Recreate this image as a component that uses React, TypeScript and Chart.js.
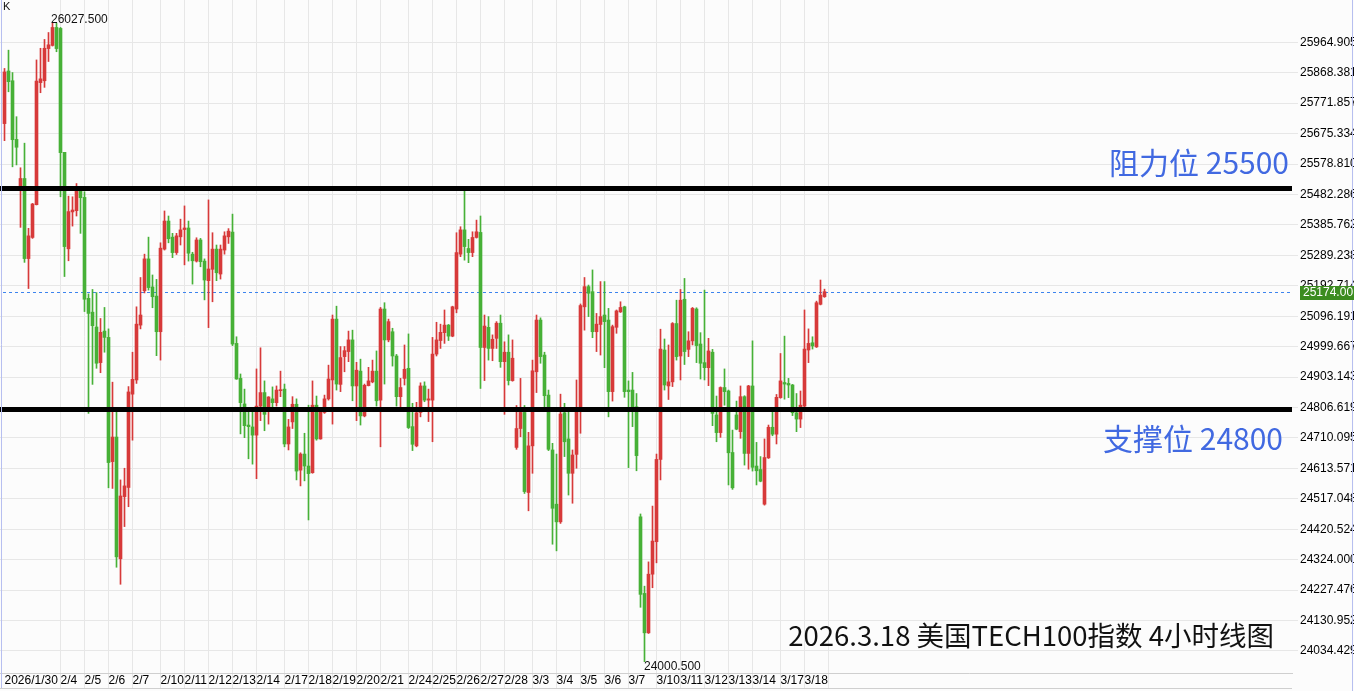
import React, { useEffect, useRef } from 'react';
import { Chart, registerables } from 'chart.js';

Chart.register(...registerables);

// ---- data (4-hour candles) ----
const OPEN = [
  25707, 25874, 25843, 25657, 25509, 25533, 25279, 25346, 25450, 25837,
  25843, 25945, 25955, 26012, 26009, 25616, 25310, 25427, 25431, 25493,
  25473, 25153, 25109, 25062, 24949, 25049, 25029, 24635, 24713, 24327,
  24524, 24553, 24849, 24894, 25068, 25177, 25278, 25189, 25160, 25047,
  25309, 25398, 25347, 25298, 25348, 25371, 25376, 25293, 25271, 25338,
  25271, 25209, 25245, 25309, 25230, 25306, 25348, 25363, 25010, 24899,
  24818, 24751, 24745, 24719, 24811, 24854, 24809, 24834, 24822, 24860,
  24865, 24691, 24761, 24817, 24608, 24659, 24621, 24600, 24814, 24707,
  24791, 24834, 24894, 25087, 24880, 24968, 24984, 25021, 24875, 24922,
  24780, 24876, 24888, 24922, 24830, 25119, 25021, 25047, 24970, 24841,
  24899, 24931, 24746, 24685, 24791, 24875, 24830, 24830, 24976, 25019,
  25044, 25068, 25033, 25119, 25293, 25370, 25311, 25298, 25346, 25362,
  24997, 25061, 24994, 25026, 25074, 24952, 24982, 24892, 24680, 24740,
  24791, 24537, 24685, 24920, 25084, 24973, 24846, 24672, 24500, 24444,
  24790, 24707, 24598, 24658, 24804, 25126, 25190, 25174, 25047, 25070,
  25100, 25084, 24857, 25061, 25110, 25126, 24862, 24862, 24809, 24460,
  24217, 24092, 24278, 24381, 24642, 24989, 24875, 24888, 25073, 24970,
  25150, 24991, 25018, 25119, 25008, 24949, 24933, 24982, 24783, 24727,
  24870, 24859, 24664, 24783, 24730, 24841, 24661, 24875, 24621, 24610,
  24500, 24647, 24744, 24722, 24838, 24886, 24883, 24878, 24790, 24770,
  24811, 24989, 25012, 24999, 25134, 25158,
];
const HIGH = [
  25882, 25940, 25869, 25729, 25567, 25645, 25375, 25454, 25909, 25946,
  25974, 25996, 26027.5, 26025, 26012, 25616, 25477, 25475, 25517, 25497,
  25491, 25167, 25181, 25171, 25089, 25124, 25056, 24887, 24799, 24577,
  24614, 24873, 24982, 25126, 25219, 25293, 25347, 25227, 25213, 25329,
  25430, 25414, 25359, 25359, 25404, 25446, 25398, 25299, 25345, 25343,
  25278, 25465, 25361, 25322, 25322, 25364, 25374, 25420, 25031, 24913,
  24865, 24797, 24799, 24929, 24996, 24891, 24841, 24872, 24875, 24922,
  24881, 24769, 24841, 24834, 24663, 24725, 24814, 24891, 24843, 24801,
  24846, 24941, 25100, 25128, 25000, 25000, 25049, 25052, 24950, 24960,
  24881, 24934, 24957, 24986, 25124, 25139, 25087, 25058, 24975, 24899,
  25005, 25040, 24820, 24823, 24885, 24888, 24865, 25029, 25077, 25071,
  25116, 25070, 25128, 25361, 25380, 25494, 25340, 25364, 25401, 25414,
  25100, 25095, 25037, 25079, 25100, 25015, 25037, 25021, 24813, 24899,
  24813, 24728, 24957, 25100, 25091, 24982, 24862, 24693, 24659, 24849,
  24820, 24799, 24672, 24894, 25135, 25219, 25195, 25243, 25105, 25206,
  25206, 25121, 25068, 25116, 25142, 25128, 24891, 24918, 24851, 24469,
  24240, 24317, 24494, 24659, 25055, 25024, 25005, 25076, 25147, 25181,
  25216, 25047, 25124, 25123, 25044, 25179, 25026, 24991, 24843, 24872,
  24929, 24862, 24735, 24827, 24875, 24844, 24877, 25018, 24696, 24651,
  24707, 24751, 24799, 24848, 24978, 25033, 24899, 24880, 24851, 24859,
  25116, 25056, 25031, 25144, 25211, 25182,
];
const LOW = [
  25653, 25808, 25570, 25576, 25378, 25267, 25184, 25343, 25449, 25805,
  25822, 25904, 25953, 25935, 25475, 25222, 25272, 25382, 25414, 25359,
  25111, 24788, 24880, 24931, 24917, 24982, 24552, 24550, 24300, 24246,
  24429, 24492, 24703, 24883, 25056, 25170, 25179, 25123, 24971, 24957,
  25306, 25329, 25282, 25292, 25322, 25259, 25271, 25198, 25268, 25253,
  25148, 25060, 25142, 25209, 25214, 25293, 25327, 25003, 24896, 24723,
  24711, 24644, 24627, 24581, 24765, 24733, 24754, 24809, 24811, 24841,
  24682, 24672, 24740, 24577, 24558, 24574, 24450, 24598, 24703, 24706,
  24788, 24830, 24754, 24862, 24857, 24920, 24952, 24828, 24765, 24751,
  24777, 24875, 24885, 24811, 24682, 24881, 25015, 24938, 24811, 24804,
  24878, 24740, 24670, 24682, 24777, 24825, 24762, 24698, 24970, 24994,
  25010, 25019, 25031, 25107, 25285, 25274, 25266, 25285, 25344, 24867,
  24892, 24957, 24955, 24994, 24934, 24785, 24878, 24890, 24674, 24714,
  24534, 24479, 24598, 24854, 24947, 24799, 24670, 24373, 24352, 24439,
  24651, 24529, 24503, 24614, 24725, 25052, 25095, 25028, 24984, 24973,
  24933, 24777, 24827, 25042, 25108, 24839, 24616, 24746, 24606, 24173,
  24000.5, 24090, 24235, 24314, 24577, 24862, 24832, 24873, 24957, 24894,
  24943, 24968, 25005, 24949, 24897, 24894, 24876, 24749, 24698, 24712,
  24814, 24561, 24547, 24736, 24709, 24624, 24611, 24605, 24561, 24571,
  24497, 24645, 24717, 24691, 24836, 24833, 24838, 24781, 24730, 24743,
  24809, 24949, 24992, 24997, 25132, 25156,
];
const CLOSE = [
  25871, 25840, 25656, 25632, 25533, 25279, 25351, 25452, 25842, 25849,
  25946, 25957, 26012, 25945, 25615, 25317, 25428, 25433, 25493, 25472,
  25150, 25105, 25066, 24947, 25045, 25029, 24632, 24713, 24333, 24526,
  24558, 24856, 24896, 25071, 25100, 25278, 25187, 25158, 25047, 25312,
  25398, 25342, 25298, 25351, 25370, 25376, 25296, 25272, 25338, 25269,
  25211, 25246, 25309, 25234, 25309, 25351, 25366, 25008, 24897, 24822,
  24749, 24746, 24719, 24811, 24854, 24785, 24840, 24822, 24862, 24863,
  24691, 24745, 24817, 24605, 24659, 24621, 24597, 24814, 24707, 24799,
  24834, 24897, 25087, 24881, 24965, 24987, 25021, 24875, 24925, 24780,
  24877, 24891, 24922, 24828, 25119, 25021, 25079, 24970, 24841, 24870,
  24928, 24743, 24690, 24790, 24875, 24830, 24834, 24976, 25021, 25045,
  25068, 25033, 25126, 25298, 25370, 25317, 25298, 25346, 25364, 24997,
  25065, 24994, 25023, 25074, 24952, 24982, 24892, 24963, 24740, 24791,
  24540, 24685, 24923, 25084, 24968, 24844, 24674, 24487, 24444, 24786,
  24698, 24598, 24656, 24804, 25130, 25190, 25169, 25047, 25071, 25095,
  25079, 24857, 25063, 25113, 25124, 24857, 24857, 24809, 24654, 24214,
  24092, 24278, 24383, 24642, 24992, 24878, 24888, 25073, 24968, 25147,
  24984, 25018, 25121, 25003, 24947, 24933, 24986, 24788, 24727, 24870,
  24857, 24663, 24552, 24738, 24841, 24661, 24875, 24617, 24606, 24573,
  24648, 24744, 24722, 24839, 24891, 24881, 24878, 24790, 24770, 24814,
  24992, 25010, 25002, 25139, 25163, 25174,
];

const DAY_LABELS = [
  '2026/1/30', '2/4', '2/5', '2/6', '2/7', '2/10', '2/11', '2/12', '2/13', '2/14',
  '2/17', '2/18', '2/19', '2/20', '2/21', '2/24', '2/25', '2/26', '2/27', '2/28',
  '3/3', '3/4', '3/5', '3/6', '3/7', '3/10', '3/11', '3/12', '3/13', '3/14',
  '3/17', '3/18',
];
// index of the first candle of each labelled day
const DAY_START = [
  0, 14, 20, 26, 32, 39, 45, 51, 57, 63,
  70, 76, 82, 88, 94, 101, 107, 113, 119, 125,
  132, 138, 144, 150, 156, 163, 169, 175, 181, 187,
  194, 200,
];
const NEXT_DAY_START = 206;

const Y_TICKS = [
  25964.905, 25868.381, 25771.857, 25675.334, 25578.81, 25482.286, 25385.762,
  25289.238, 25192.714, 25096.191, 24999.667, 24903.143, 24806.619, 24710.095,
  24613.571, 24517.048, 24420.524, 24324.0, 24227.476, 24130.952, 24034.429,
];
const Y_MIN = 23964.6;
const Y_MAX = 26099.1;

const RESISTANCE = 25500;
const SUPPORT = 24800;
const LAST_PRICE = 25174;
const HIGH_INDEX = 12;
const LOW_INDEX = 160;
const HIGH_TEXT = '26027.500';
const LOW_TEXT = '24000.500';
const RES_TEXT = '阻力位 25500';
const SUP_TEXT = '支撑位 24800';
const TITLE = '2026.3.18 美国TECH100指数 4小时线图';

const UP = '#d73a3a';
const DOWN = '#47b137';
const GRID = '#e7e7e7';
const SANS = '"Liberation Sans", Arial, sans-serif';
const CJK = '"Noto Sans CJK SC", "Noto Sans", sans-serif';

export default function App() {
  const ref = useRef<HTMLCanvasElement | null>(null);

  useEffect(() => {
    document.body.style.margin = '0';
    document.body.style.overflow = 'hidden';
    const canvas = ref.current;
    if (!canvas) return;

    const colors = OPEN.map((o, i) => (CLOSE[i] >= o ? UP : DOWN));
    const wicks = OPEN.map((_, i) => ({ x: i, y: [LOW[i], HIGH[i]] }));
    const bodies = OPEN.map((o, i) => ({ x: i, y: [o, CLOSE[i]] }));

    const overlay = {
      id: 'overlay',
      beforeDraw(chart: any) {
        const c = chart.ctx;
        c.save();
        c.fillStyle = '#fcfcfc';
        c.fillRect(0, 0, chart.width, chart.height);
        c.restore();
      },
      beforeDatasetsDraw(chart: any) {
        const c = chart.ctx;
        const a = chart.chartArea;
        const y = Math.round(chart.scales.y.getPixelForValue(LAST_PRICE)) + 0.5;
        c.save();
        c.strokeStyle = '#3d84ee';
        c.lineWidth = 1;
        c.setLineDash([3, 3]);
        c.beginPath();
        c.moveTo(a.left + 3, y);
        c.lineTo(a.right, y);
        c.stroke();
        c.restore();
      },
      afterDatasetsDraw(chart: any) {
        const c = chart.ctx;
        const a = chart.chartArea;
        const ys = chart.scales.y;
        c.save();
        c.fillStyle = '#000';
        [RESISTANCE, SUPPORT].forEach((v) => {
          const y = ys.getPixelForValue(v);
          c.fillRect(a.left, Math.round(y - 2.5), a.right - a.left, 5);
        });
        c.restore();
      },
      afterDraw(chart: any) {
        const c = chart.ctx;
        const a = chart.chartArea;
        const xs = chart.scales.x;
        const ys = chart.scales.y;
        c.save();
        // frame
        c.strokeStyle = '#b7bff0';
        c.lineWidth = 1;
        c.beginPath();
        c.moveTo(1.5, 0);
        c.lineTo(1.5, 689);
        c.moveTo(chart.width - 1.5, 0);
        c.lineTo(chart.width - 1.5, chart.height);
        c.stroke();
        c.strokeStyle = '#cfcfcf';
        c.beginPath();
        c.moveTo(a.left, 688.5);
        c.lineTo(a.right, 688.5);
        c.stroke();

        // high / low labels
        c.fillStyle = '#111';
        c.font = '12px ' + SANS;
        c.textAlign = 'left';
        c.textBaseline = 'alphabetic';
        c.fillText(HIGH_TEXT, xs.getPixelForValue(HIGH_INDEX) - 1.5, 22.5);
        c.fillText(LOW_TEXT, xs.getPixelForValue(LOW_INDEX) - 0.5, 670);

        // K
        c.font = '11px ' + SANS;
        c.fillText('K', 3, 10);

        // last price box
        const py = ys.getPixelForValue(LAST_PRICE);
        c.fillStyle = '#3b8c1f';
        c.fillRect(a.right + 8, Math.round(py) - 6, 60, 14);
        c.fillStyle = '#ffffff';
        c.font = '12px ' + SANS;
        c.textBaseline = 'middle';
        c.fillText(LAST_PRICE.toFixed(2), a.right + 11, Math.round(py) + 1);

        // annotations
        c.textBaseline = 'alphabetic';
        c.textAlign = 'right';
        c.fillStyle = '#4169e1';
        c.font = '30px ' + CJK;
        c.fillText(RES_TEXT, 1289, 174);
        c.fillText(SUP_TEXT, 1283, 450);
        c.fillStyle = '#111';
        c.font = '27.5px ' + CJK;
        c.fillText(TITLE, 1274, 646);
        c.restore();
      },
    };

    const chart = new Chart(canvas, {
      type: 'bar',
      data: {
        datasets: [
          {
            data: wicks as any,
            backgroundColor: colors,
            barThickness: 1,
            grouped: false,
            borderWidth: 0,
          },
          {
            data: bodies as any,
            backgroundColor: colors,
            barThickness: 3,
            grouped: false,
            borderWidth: 0,
            minBarLength: 1,
          },
        ],
      },
      options: {
        responsive: false,
        maintainAspectRatio: false,
        animation: false,
        layout: { padding: 0 },
        plugins: {
          legend: { display: false },
          tooltip: { enabled: false },
        },
        scales: {
          x: {
            type: 'linear',
            min: -1.125,
            max: 321.875,
            offset: false,
            grid: {
              offset: false,
              tickLength: 15,
              color: (ctx: any) =>
                ctx.tick && ctx.tick.value === 0 ? 'rgba(0,0,0,0)' : GRID,
            },
            border: { display: true, color: '#cfcfcf' },
            afterBuildTicks: (axis: any) => {
              axis.ticks = [...DAY_START, NEXT_DAY_START].map((v) => ({ value: v }));
            },
            ticks: {
              autoSkip: false,
              maxRotation: 0,
              minRotation: 0,
              align: 'start',
              padding: -15,
              color: '#000',
              font: { family: SANS, size: 12 },
              callback: (v: any) => {
                const k = DAY_START.indexOf(Number(v));
                return k >= 0 ? DAY_LABELS[k] : '';
              },
            },
            afterFit: (s: any) => {
              s.height = 18;
              s.paddingLeft = 0;
              s.paddingRight = 0;
            },
          } as any,
          y: {
            type: 'linear',
            position: 'right',
            min: Y_MIN,
            max: Y_MAX,
            grid: { color: GRID, tickLength: 6 },
            border: { display: false },
            afterBuildTicks: (axis: any) => {
              axis.ticks = Y_TICKS.map((v) => ({ value: v }));
            },
            ticks: {
              padding: 2,
              color: '#000',
              font: { family: SANS, size: 12 },
              callback: (v: any) => Number(v).toFixed(3),
            },
            afterFit: (s: any) => {
              s.width = 62;
              s.paddingTop = 0;
              s.paddingBottom = 0;
            },
          } as any,
        },
      },
      plugins: [overlay],
    });

    return () => chart.destroy();
  }, []);

  return (
    <canvas
      ref={ref}
      width={1354}
      height={691}
      style={{ display: 'block', width: 1354, height: 691 }}
    />
  );
}
